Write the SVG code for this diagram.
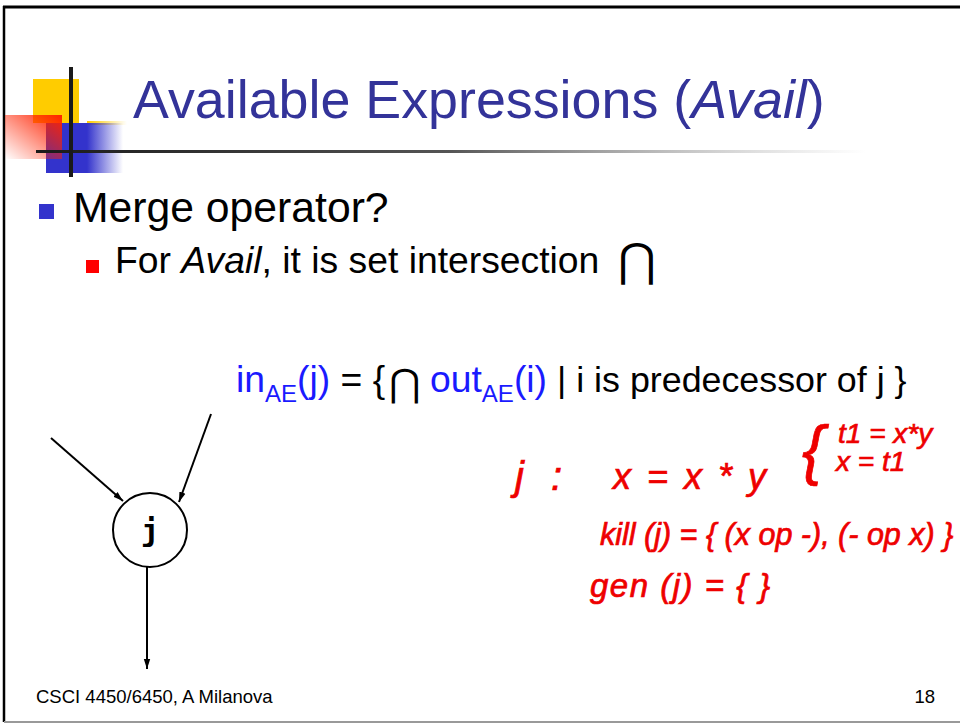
<svg xmlns="http://www.w3.org/2000/svg" width="960" height="724" viewBox="0 0 960 724">
<defs>
  <linearGradient id="gRed" x1="1" y1="0" x2="0" y2="1">
    <stop offset="0" stop-color="#ff2200"/>
    <stop offset="1" stop-color="#ff2200" stop-opacity="0"/>
  </linearGradient>
  <linearGradient id="gBlue" x1="0" y1="0" x2="1" y2="0">
    <stop offset="0" stop-color="#3333cc"/>
    <stop offset="1" stop-color="#3333cc" stop-opacity="0"/>
  </linearGradient>
  <linearGradient id="gYel" x1="0" y1="0" x2="1" y2="0">
    <stop offset="0" stop-color="#ffcc00"/>
    <stop offset="1" stop-color="#ffcc00" stop-opacity="0"/>
  </linearGradient>
  <linearGradient id="gLine" x1="0" y1="0" x2="1" y2="0">
    <stop offset="0" stop-color="#1a1a1a"/>
    <stop offset="0.5" stop-color="#555"/>
    <stop offset="1" stop-color="#999" stop-opacity="0"/>
  </linearGradient>
  <marker id="arr" viewBox="0 0 10 8" refX="10" refY="4" markerWidth="10" markerHeight="8" markerUnits="userSpaceOnUse" orient="auto">
    <path d="M0,0.8 L10,4 L0,7.2 z" fill="#000"/>
  </marker>
</defs>
<style>
  .t{font-family:"Liberation Sans",Arial,sans-serif;}
  .blk{fill:#000;}
  .blu{fill:#1a1aff;}
  .ink{font-family:"Liberation Sans",Arial,sans-serif;font-style:italic;fill:#ee0000;stroke:#ee0000;stroke-width:0.7;}
  .edge{stroke:#000;stroke-width:2;fill:none;marker-end:url(#arr);}
</style>
<rect width="960" height="724" fill="#fff"/>
<!-- frame -->
<line x1="3" y1="7" x2="960" y2="7" stroke="#000" stroke-width="3"/>
<line x1="4" y1="6" x2="4" y2="722" stroke="#000" stroke-width="2.5"/>
<line x1="4" y1="722" x2="960" y2="722" stroke="#999" stroke-width="2"/>

<!-- title decoration -->
<g id="decoration">
  <rect x="33" y="79" width="46" height="44" fill="#ffcc00"/>
  <rect x="87" y="121" width="40" height="4" fill="url(#gYel)"/>
  <rect x="46" y="123" width="41" height="50" fill="#3333cc"/>
  <rect x="87" y="123" width="36" height="50" fill="url(#gBlue)"/>
  <rect x="5" y="115" width="57" height="44" fill="url(#gRed)"/>
  <rect x="36" y="150" width="830" height="3" fill="url(#gLine)"/>
  <rect x="69" y="67" width="4" height="110" fill="#1a1a1a"/>
</g>

<text id="title" class="t" x="133" y="118" font-size="53.8" fill="#333399">Available Expressions (<tspan font-style="italic">Avail</tspan>)</text>

<g id="bullets">
  <rect x="39" y="204" width="15" height="15" fill="#3333cc"/>
  <text class="t blk" x="73" y="222" font-size="42.7">Merge operator?</text>
  <rect x="86" y="260" width="13" height="13" fill="#ff0000"/>
  <text class="t blk" x="115" y="273" font-size="37.3">For <tspan font-style="italic">Avail</tspan>, it is set intersection</text>
  <text x="618" y="276" font-family="DejaVu Sans,sans-serif" font-size="46" fill="#000">⋂</text>
</g>

<g id="formula">
  <text class="t" x="236" y="392" font-size="37.3"><tspan class="blu">in</tspan><tspan class="blu" font-size="24" dy="10">AE</tspan><tspan class="blu" dy="-10">(j)</tspan><tspan class="blk"> = {</tspan></text>
  <text x="389" y="396" font-family="DejaVu Sans,sans-serif" font-size="38" fill="#000">⋂</text>
  <text class="t" x="430" y="392" font-size="37.3"><tspan class="blu">out</tspan><tspan class="blu" font-size="24" dy="10">AE</tspan><tspan class="blu" dy="-10">(i)</tspan><tspan class="blk" font-size="35.8"> | i is predecessor of j }</tspan></text>
</g>

<g id="node-j">
  <circle cx="150" cy="530" r="37" fill="#fff" stroke="#000" stroke-width="2"/>
  <text x="150" y="541" text-anchor="middle" font-family="DejaVu Sans Mono,Liberation Mono,monospace" font-weight="bold" font-size="31" fill="#000">j</text>
</g>

<g id="connectors">
  <line class="edge" x1="51" y1="438" x2="123" y2="501"/>
  <line class="edge" x1="211" y1="414" x2="179" y2="502"/>
  <line class="edge" x1="147" y1="567" x2="147" y2="669"/>
</g>

<g id="annotations">
  <text class="ink" x="515" y="490" font-size="40" letter-spacing="8">j :</text>
  <text class="ink" x="613" y="489" font-size="36" letter-spacing="3">x = x * y</text>
  <text class="ink" x="802" y="472" font-size="66" font-style="normal" stroke-width="0">{</text>
  <text class="ink" x="838" y="443" font-size="28">t1 = x*y</text>
  <text class="ink" x="836" y="471" font-size="28">x = t1</text>
  <text class="ink" x="600" y="545" font-size="30.5">kill (j) = { (x op -), (- op x) }</text>
  <text class="ink" x="590" y="597" font-size="33" letter-spacing="1.5">gen (j) = { }</text>
</g>

<g id="footer">
  <text class="t blk" x="36" y="703" font-size="18.5">CSCI 4450/6450, A Milanova</text>
  <text class="t blk" x="935" y="703" font-size="18.5" text-anchor="end">18</text>
</g>
</svg>
